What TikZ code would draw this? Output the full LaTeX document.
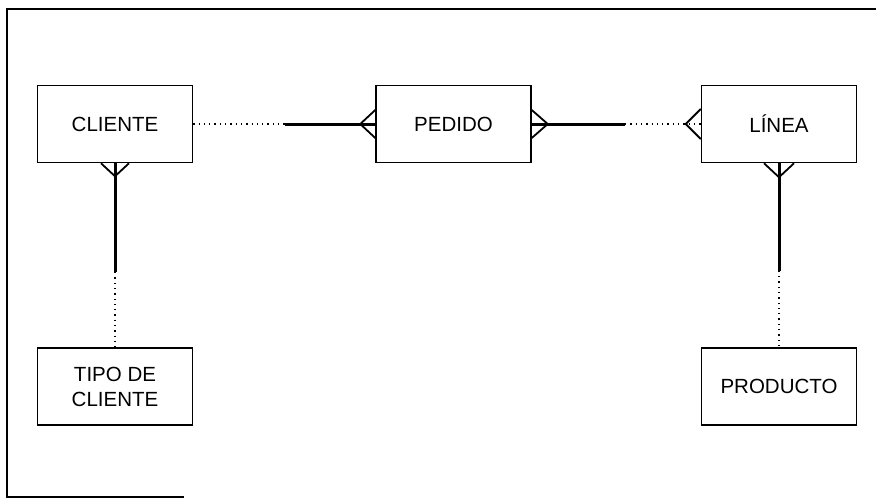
\documentclass[tikz,border=0pt]{standalone}
\usepackage{fontspec}
\setmainfont{Liberation Sans}
\usetikzlibrary{positioning, calc}

\begin{document}
\begin{tikzpicture}[x=1pt, y=-1pt,
  entity/.style={rectangle, draw, line width=1.5pt, minimum width=155pt, minimum height=77pt, inner sep=0pt, align=center, font=\fontsize{20.5}{25}\selectfont},
  must/.style={line width=3pt},
  may/.style={line width=1.3pt, dash pattern=on 1.3pt off 4pt},
  foot/.style={line width=1.8pt, line join=miter}
]
\useasboundingbox (0,0) rectangle (876,499);
\draw[line width=1.5pt] (184,497) -- (7,497) -- (7,9) -- (876,9);
\node[entity] (cliente) at (115,124) {CLIENTE};
\node[entity, right=182pt of cliente] (pedido) {PEDIDO};
\node[entity, right=169pt of pedido] (linea) {LÍNEA};
\node[entity, below=184pt of cliente] (tipo) {TIPO DE\\CLIENTE};
\node[entity, below=184pt of linea] (producto) {PRODUCTO};
% cliente - pedido
\coordinate[left=15pt of pedido.west] (cp-foot);
\coordinate (cp-mid) at ($(cliente.east)!0.55!(cp-foot)$);
\draw[may] (cliente.east) -- (cp-mid);
\draw[must] (cp-mid) -- (pedido.west);
\draw[foot] ($(pedido.west)+(0,-14)$) -- (cp-foot) -- ($(pedido.west)+(0,14)$);
% pedido - linea
\coordinate[right=16pt of pedido.east] (pl-foot-a);
\coordinate[left=15pt of linea.west] (pl-foot-b);
\coordinate (pl-mid) at ($(pl-foot-a)!0.56!(pl-foot-b)$);
\draw[must] (pedido.east) -- (pl-mid);
\draw[may] (pl-mid) -- (linea.west);
\draw[foot] ($(pedido.east)+(0,-14)$) -- (pl-foot-a) -- ($(pedido.east)+(0,14)$);
\draw[foot] ($(linea.west)+(0,-15)$) -- (pl-foot-b) -- ($(linea.west)+(0,15)$);
% cliente - tipo de cliente
\coordinate[below=13pt of cliente.south] (ct-foot);
\coordinate (ct-mid) at ($(ct-foot)!0.56!(tipo.north)$);
\draw[must] (cliente.south) -- (ct-mid);
\draw[may] (ct-mid) -- (tipo.north);
\draw[foot] ($(cliente.south)+(-14,0)$) -- (ct-foot) -- ($(cliente.south)+(14,0)$);
% linea - producto
\coordinate[below=14pt of linea.south] (lp-foot);
\coordinate (lp-mid) at ($(lp-foot)!0.55!(producto.north)$);
\draw[must] (linea.south) -- (lp-mid);
\draw[may] (lp-mid) -- (producto.north);
\draw[foot] ($(linea.south)+(-15,0)$) -- (lp-foot) -- ($(linea.south)+(15,0)$);
\end{tikzpicture}
\end{document}
